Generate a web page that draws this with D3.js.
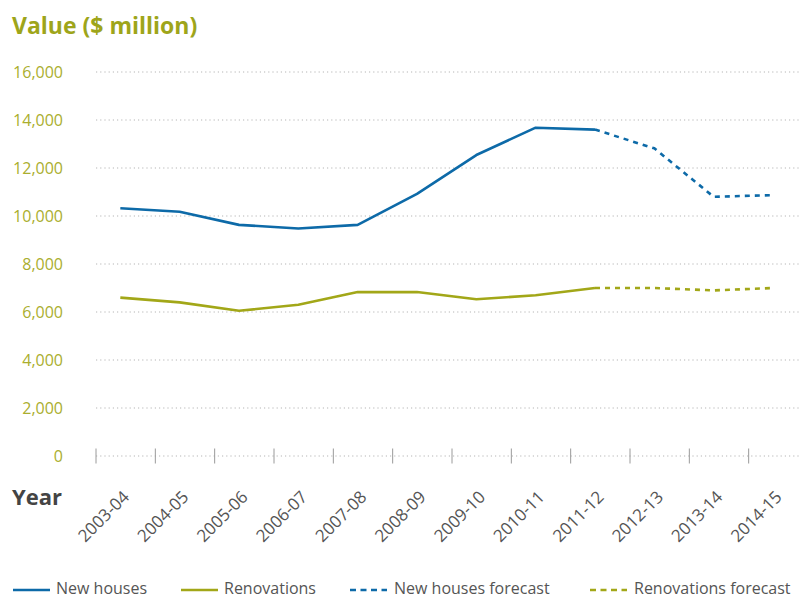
<!DOCTYPE html>
<html>
<head>
<meta charset="utf-8">
<script src="https://cdn.jsdelivr.net/npm/d3@7"></script>
<style>
  html, body { margin: 0; padding: 0; background: #fff; }
  svg { display: block; font-family: "Open Sans", "Noto Sans", sans-serif; }
</style>
</head>
<body>
<svg id="chart" width="801" height="598"></svg>
<script>
// Financial years on the x axis
const years = ["2003-04", "2004-05", "2005-06", "2006-07", "2007-08", "2008-09",
               "2009-10", "2010-11", "2011-12", "2012-13", "2013-14", "2014-15"];

// Value of work ($ million), actual figures to 2011-12
const newHouses   = [10320, 10180, 9630, 9480, 9630, 10920, 12540, 13680, 13600];
const renovations = [6600, 6400, 6050, 6300, 6830, 6830, 6530, 6700, 7000];

// Forecasts, starting from the last actual year (2011-12)
const forecastYears       = ["2011-12", "2012-13", "2013-14", "2014-15"];
const newHousesForecast   = [13600, 12820, 10800, 10870];
const renovationsForecast = [7000, 7000, 6900, 7000];

const yTicks = [0, 2000, 4000, 6000, 8000, 10000, 12000, 14000, 16000];

const legendItems = [
  { label: "New houses", color: "#0d6aa8", dashed: false },
  { label: "Renovations", color: "#a2a718", dashed: false },
  { label: "New houses forecast", color: "#0d6aa8", dashed: true },
  { label: "Renovations forecast", color: "#a2a718", dashed: true }
];

const BLUE = "#0d6aa8", OLIVE = "#a2a718";

const svg = d3.select("#chart");

const x = d3.scaleBand().domain(years).range([96, 808]).paddingInner(0).paddingOuter(0);
const px = d => x(d) + x.bandwidth() * 0.41;
const y = d3.scaleLinear().domain([0, 16000]).range([456, 72]);

// Title
svg.append("text")
  .attr("x", 12).attr("y", 34)
  .attr("fill", "#9ea51a")
  .attr("font-size", 23).attr("font-weight", 700)
  .text("Value ($ million)");

// Horizontal dotted gridlines
svg.append("g").selectAll("line").data(yTicks).join("line")
  .attr("x1", 96).attr("x2", 801)
  .attr("y1", d => y(d)).attr("y2", d => y(d))
  .attr("stroke", "#b5b5b5").attr("stroke-width", 1)
  .attr("stroke-dasharray", "1.2,3");

// Y axis labels
const yAxis = d3.axisLeft(y).tickValues(yTicks).tickSize(0).tickFormat(d3.format(","));
svg.append("g").attr("transform", "translate(63,0)").call(yAxis)
  .call(g => g.select(".domain").remove())
  .call(g => g.selectAll("text")
    .attr("x", 0).attr("dy", "0.34em")
    .attr("fill", "#aaae2e").attr("font-size", 16)
    .attr("font-family", "'Open Sans', 'Noto Sans', sans-serif"));

// X axis: category boundary ticks on the zero line
svg.append("g").selectAll("line").data(years).join("line")
  .attr("x1", d => x(d)).attr("x2", d => x(d))
  .attr("y1", 448.5).attr("y2", 463.5)
  .attr("stroke", "#9a9a9a").attr("stroke-width", 1);

// X labels, rotated
svg.append("g").selectAll("text").data(years).join("text")
  .attr("transform", d => `translate(${px(d) + 10},498) rotate(-45)`)
  .attr("text-anchor", "end")
  .attr("fill", "#555").attr("font-size", 17)
  .text(d => d);

// "Year" axis title
svg.append("text")
  .attr("x", 12).attr("y", 505)
  .attr("fill", "#444").attr("font-size", 22).attr("font-weight", 700)
  .text("Year");

const line = d3.line().x(d => px(d[0])).y(d => y(d[1]));
const zip = (ks, vs) => vs.map((v, i) => [ks[i], v]);

function drawSeries(data, color, dashed) {
  svg.append("path")
    .datum(data)
    .attr("d", line)
    .attr("fill", "none")
    .attr("stroke", color)
    .attr("stroke-width", 2.6)
    .attr("stroke-linejoin", "round")
    .attr("stroke-dasharray", dashed ? "5,5" : null);
}

drawSeries(zip(forecastYears, renovationsForecast), OLIVE, true);
drawSeries(zip(forecastYears, newHousesForecast), BLUE, true);
drawSeries(zip(years, renovations), OLIVE, false);
drawSeries(zip(years, newHouses), BLUE, false);

// Legend
const legendX = [13, 181, 350, 590];
const lg = svg.append("g").selectAll("g").data(legendItems).join("g")
  .attr("transform", (d, i) => `translate(${legendX[i]},0)`);
lg.append("line")
  .attr("x1", 0).attr("x2", 37)
  .attr("y1", 590).attr("y2", 590)
  .attr("stroke", d => d.color).attr("stroke-width", 2.6)
  .attr("stroke-dasharray", d => d.dashed ? "6,4.5" : null);
lg.append("text")
  .attr("x", d => d.dashed ? 44 : 43).attr("y", 593.5)
  .attr("fill", "#555").attr("font-size", 16)
  .text(d => d.label);
</script>
</body>
</html>
